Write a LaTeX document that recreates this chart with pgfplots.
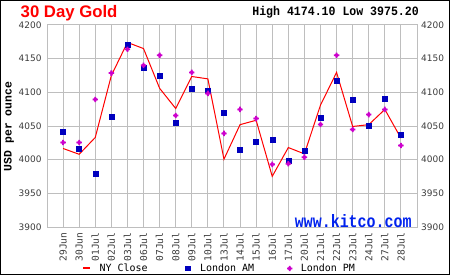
\documentclass[border=0pt]{standalone}
\usepackage{pgfplots}
\pgfplotsset{compat=1.18}
\usepackage{fontspec}
\setmainfont{Liberation Sans}
\newfontfamily\lmono{Liberation Mono}
\newfontfamily\dvs{DejaVu Sans}
\newfontfamily\dvsm{DejaVu Sans Mono}
\definecolor{nyred}{RGB}{255,0,0}
\definecolor{amblue}{RGB}{0,0,190}
\definecolor{pmmag}{RGB}{204,0,204}
\definecolor{gridgray}{RGB}{190,190,190}
\definecolor{kitcoblue}{RGB}{0,34,238}
\definecolor{ticktext}{RGB}{60,60,60}

\pgfdeclareplotmark{fatplus}{%
  \pgfpathmoveto{\pgfpoint{-0.9bp}{-2.7bp}}%
  \pgfpathlineto{\pgfpoint{0.9bp}{-2.7bp}}%
  \pgfpathlineto{\pgfpoint{0.9bp}{-1.6bp}}%
  \pgfpathlineto{\pgfpoint{1.6bp}{-0.9bp}}%
  \pgfpathlineto{\pgfpoint{2.7bp}{-0.9bp}}%
  \pgfpathlineto{\pgfpoint{2.7bp}{0.9bp}}%
  \pgfpathlineto{\pgfpoint{1.6bp}{0.9bp}}%
  \pgfpathlineto{\pgfpoint{0.9bp}{1.6bp}}%
  \pgfpathlineto{\pgfpoint{0.9bp}{2.7bp}}%
  \pgfpathlineto{\pgfpoint{-0.9bp}{2.7bp}}%
  \pgfpathlineto{\pgfpoint{-0.9bp}{1.6bp}}%
  \pgfpathlineto{\pgfpoint{-1.6bp}{0.9bp}}%
  \pgfpathlineto{\pgfpoint{-2.7bp}{0.9bp}}%
  \pgfpathlineto{\pgfpoint{-2.7bp}{-0.9bp}}%
  \pgfpathlineto{\pgfpoint{-1.6bp}{-0.9bp}}%
  \pgfpathlineto{\pgfpoint{-0.9bp}{-1.6bp}}%
  \pgfpathclose
  \pgfusepathqfill}

\pgfplotstableread{
i  ny      am      pm
0  4016.6  4042.0  4025.5
1  4008.0  4017.0  4025.5
2  4033.0  3978.5  4089.4
3  4125.0  4064.0  4128.6
4  4174.1  4171.0  4164.0
5  4165.0  4137.0  4140.0
6  4106.0  4124.0  4155.0
7  4076.0  4055.0  4065.6
8  4123.5  4106.0  4129.6
9  4120.0  4102.0  4098.4
10 4000.7  4070.0  4039.0
11 4052.0  4015.5  4074.6
12 4058.5  4027.0  4061.0
13 3975.2  4030.0  3993.0
14 4018.0  3999.0  3994.0
15 4008.6  4013.6  4003.7
16 4081.0  4062.7  4052.3
17 4129.6  4117.7  4155.0
18 4049.3  4089.4  4044.8
19 4052.0  4050.8  4067.0
20 4074.6  4091.0  4074.6
21 4032.0  4037.4  4021.0
}\golddata

\pgfplotsset{
 nyleg/.style={legend image code/.code={\draw[nyred, line width=2bp] (0bp,0bp) -- (7bp,0bp);}},
 amleg/.style={legend image code/.code={\fill[amblue] (0bp,-2.1bp) rectangle (4.3bp,2.1bp); \path (6bp,0bp);}},
 pmleg/.style={legend image code/.code={\path (0bp,0bp) -- (5.4bp,0bp); \pgfsetfillcolor{pmmag}\pgftransformshift{\pgfpoint{2.7bp}{0bp}}\pgfuseplotmark{fatplus}}},
 ytickfont/.style={font=\dvs\fontsize{9}{10}\selectfont, text=ticktext},
}

\begin{document}
\begin{tikzpicture}[x=1bp,y=1bp]
\useasboundingbox (0,0) rectangle (450,275);
\fill[white] (0,0) rectangle (450,275);
\begin{axis}[at={(47bp,48bp)}, anchor=south west, scale only axis,
 width=370bp, height=202bp,
 xmin=-1, xmax=22, ymin=3900, ymax=4200,
 xtick={0,...,21},
 xticklabels={29Jun,30Jun,01Jul,02Jul,03Jul,06Jul,07Jul,08Jul,09Jul,10Jul,13Jul,14Jul,15Jul,16Jul,17Jul,20Jul,21Jul,22Jul,23Jul,24Jul,27Jul,28Jul},
 ytick={3900,3950,...,4200},
 grid=major, major grid style={gridgray, line width=1bp},
 axis line style={gridgray, line width=1bp},
 major tick length=0pt,
 xticklabel style={rotate=90, anchor=east, font=\dvsm\fontsize{9.6}{10}\selectfont, text=ticktext, inner ysep=0pt, inner xsep=5.5bp},
 yticklabel style={ytickfont, inner sep=0pt, xshift=-5.3bp},
 /pgf/number format/1000 sep={}, /pgf/number format/assume math mode=true,
 legend style={at={(rel axis cs:0.4639,-0.2054)}, anchor=center, draw=none, fill=none,
   font=\dvsm\fontsize{10}{11}\selectfont, inner sep=0pt, nodes={inner sep=0pt},
   /tikz/every odd column/.append style={column sep=8.3bp},
   /tikz/every even column/.append style={column sep=0bp}},
 legend columns=3, legend cell align=left,
 clip=false,
]
\addplot[nyred, line width=1bp, mark=none, nyleg] table[x=i, y=ny]{\golddata};
\addlegendentry{\makebox[85.7bp][l]{NY Close}}
\addplot[only marks, mark=square*, mark size=2.5bp, amblue, amleg] table[x=i, y=am]{\golddata};
\addlegendentry{\makebox[86.7bp][l]{London AM}}
\addplot[only marks, mark=fatplus, pmmag, fill=pmmag, pmleg] table[x=i, y=pm]{\golddata};
\addlegendentry{London PM}
\node[anchor=base east, font=\lmono\bfseries\fontsize{15}{16}\selectfont, text=kitcoblue, inner sep=0pt, yscale=1.2] at (rel axis cs:0.9857,0.0) {www.kitco.com};
\end{axis}
\begin{axis}[at={(47bp,48bp)}, anchor=south west, scale only axis,
 width=370bp, height=202bp,
 xmin=-1, xmax=22, ymin=3900, ymax=4200,
 hide x axis, axis y line*=right, y axis line style={draw=none},
 major tick length=0pt,
 ytick={3900,3950,...,4200},
 yticklabel style={ytickfont, inner sep=0pt, xshift=4bp, anchor=west},
 /pgf/number format/1000 sep={}, /pgf/number format/assume math mode=true,
]
\end{axis}
\node[anchor=base west, font=\bfseries\fontsize{16.8}{18}\selectfont, text=nyred, inner sep=0pt] at (20.5,258) {30 Day Gold};
\node[anchor=base east, font=\lmono\bfseries\fontsize{11.6}{12}\selectfont, inner sep=0pt, yscale=1.1] at (419,260) {High 4174.10 Low 3975.20};
\node[rotate=90, anchor=center, font=\lmono\bfseries\fontsize{11.5}{12}\selectfont, inner sep=0pt] at (9,148.5) {USD per ounce};
\draw[black, line width=1bp] (0.5,0.5) rectangle (449.5,274.5);
\end{tikzpicture}
\end{document}
